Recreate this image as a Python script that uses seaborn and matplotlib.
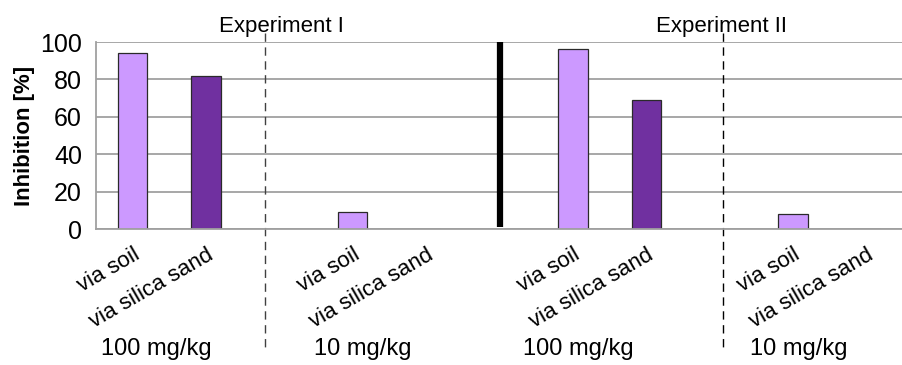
import numpy as np
import pandas as pd
import matplotlib
matplotlib.use('Agg')
import matplotlib.pyplot as plt
import matplotlib.transforms as mtransforms
import seaborn as sns

sns.set_style('white')
plt.rcParams['font.family'] = ['Liberation Sans', 'DejaVu Sans']
plt.rcParams['text.color'] = 'black'
plt.rcParams['axes.labelcolor'] = 'black'
plt.rcParams['xtick.color'] = 'black'
plt.rcParams['ytick.color'] = 'black'

experiments = ['Experiment I', 'Experiment II']
doses = ['100 mg/kg', '10 mg/kg', '100 mg/kg', '10 mg/kg']
routes = ['via soil', 'via silica sand']
# inhibition per dose group, soil then silica sand
inhibition = [94, 82, 9, 0, 96, 69, 8, 0]
route_colors = {'via soil': '#CC99FF', 'via silica sand': '#7030A0'}

# category sequence: two bars per dose group, one empty slot between groups
slots, labels, rows = [], [], []
k = 0
for g, dose in enumerate(doses):
    if g > 0:
        slots.append('gap%d' % g)
        labels.append('')
    for r in routes:
        key = '%d-%s' % (g, r)
        slots.append(key)
        labels.append(r)
        rows.append({'slot': key, 'route': r, 'inhibition': inhibition[k]})
        k += 1
df = pd.DataFrame(rows)

fig = plt.figure(figsize=(9.03, 3.65), dpi=100)
ax = fig.add_axes([96/903, 1-229.3/365, (903-96)/903, 187.3/365])

sns.barplot(data=df, x='slot', y='inhibition', hue='route', order=slots,
            palette=route_colors, saturation=1, dodge=False, width=0.4,
            edgecolor='#2a2a2a', linewidth=0.9, legend=False, ax=ax)

grey = '#a0a0a0'
ax.set_ylim(0, 100)
ax.set_yticks(np.arange(0, 101, 20))
ax.yaxis.grid(True, color=grey, lw=1.3)
ax.set_axisbelow(True)
ax.set_xlim(-0.5, (903-96)/74.6 - 0.5)
for s in ['top', 'right']:
    ax.spines[s].set_visible(False)
for s in ['left', 'bottom']:
    ax.spines[s].set_color(grey)
    ax.spines[s].set_linewidth(1.3)

ax.set_xticks(range(len(slots)))
ax.set_xticklabels(labels, rotation=30, ha='right', va='top',
                   rotation_mode='anchor', fontsize=16)
ax.tick_params(axis='x', which='major', length=0, pad=11)
ax.set_xticks(np.arange(-0.5, len(slots), 1), minor=True)
ax.tick_params(axis='x', which='minor', length=6, color=grey, width=1.2)
ax.tick_params(axis='y', length=8, color=grey, width=1.2, pad=2, labelsize=18)
ax.set_xlabel('')
ax.set_ylabel('Inhibition [%]', fontsize=16, fontweight='bold', labelpad=4)

trans = mtransforms.blended_transform_factory(ax.transData, ax.transAxes)
gaps = [i for i, s in enumerate(slots) if s.startswith('gap')]
# separators: dashed between doses, thick line between experiments
ax.plot([gaps[0] - 0.2]*2, [1.048, -0.655], transform=trans, clip_on=False,
        color='#404040', lw=1, ls=(0, (6, 4)))
ax.plot([gaps[2] + 0.05]*2, [1.048, -0.655], transform=trans, clip_on=False,
        color='black', lw=1, ls=(0, (6, 4)))
ax.plot([gaps[1]]*2, [1.0, 0.01], transform=trans, clip_on=False,
        color='black', lw=4.5, solid_capstyle='butt')

for exp, gx in zip(experiments, [gaps[0], gaps[2]]):
    ax.text(gx + 0.03, 1.085, exp, transform=trans, ha='center', va='center',
            fontsize=16)

soil_pos = [i for i, s in enumerate(slots) if s.endswith('via soil')]
for dose, sx, nudge in zip(doses, soil_pos, [0.32, 0.13, 0.07, 0.08]):
    ax.text(sx + nudge, -0.64, dose, transform=trans, ha='center', va='center',
            fontsize=17)

fig.savefig('out.png', dpi=100)
